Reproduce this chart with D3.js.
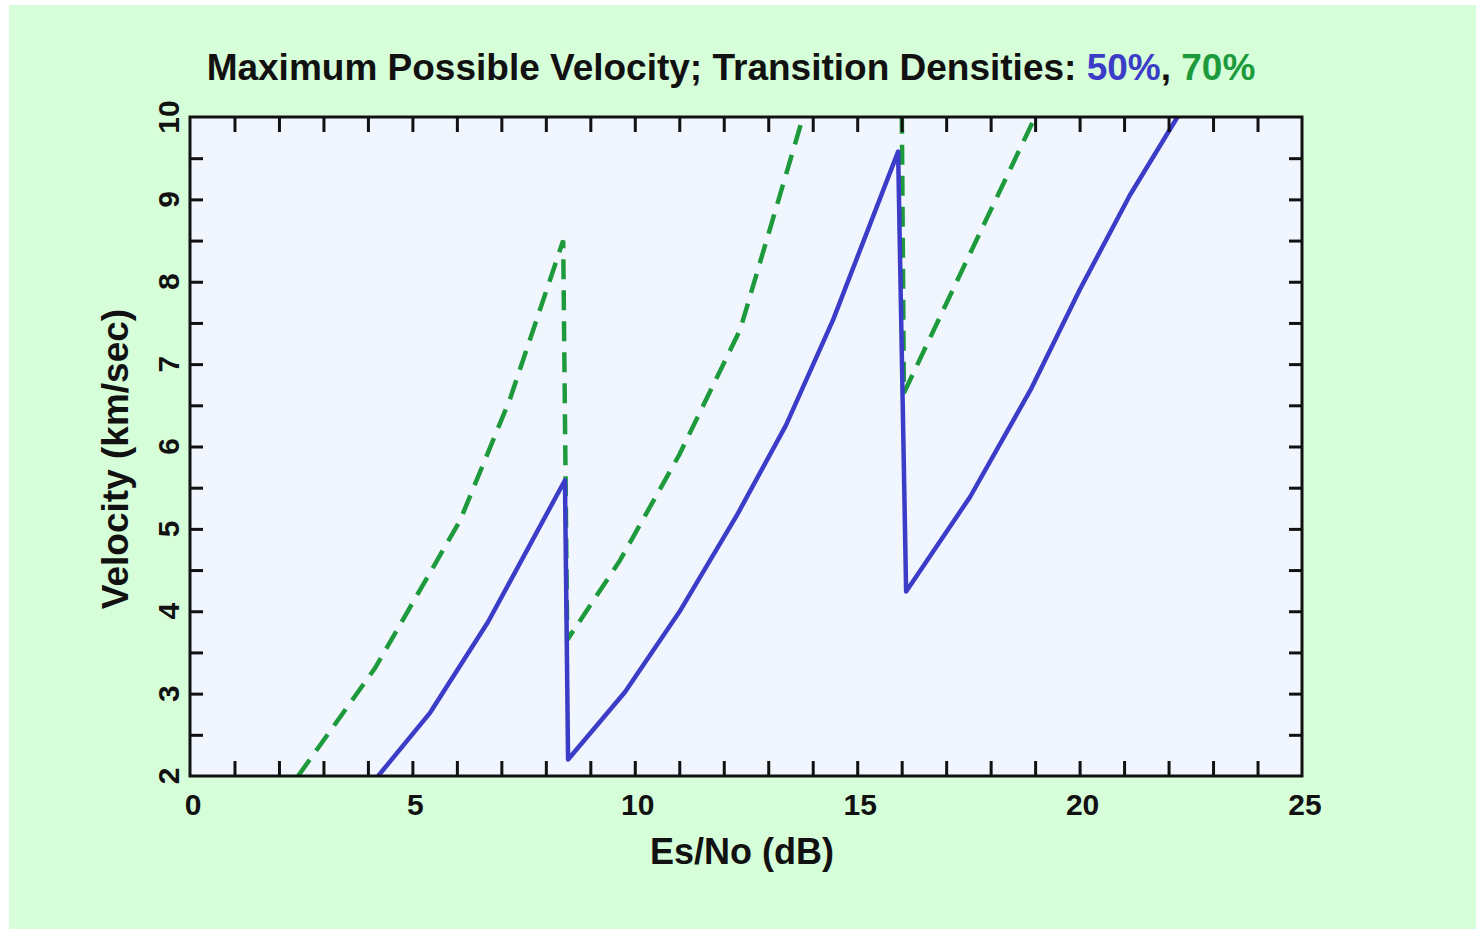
<!DOCTYPE html>
<html>
<head>
<meta charset="utf-8">
<script src="https://cdn.jsdelivr.net/npm/d3@7"></script>
<style>
  body { margin: 0; background: #ffffff; }
  text { font-family: "Liberation Sans", Arial, sans-serif; font-weight: bold; }
</style>
</head>
<body>
<div id="chart"></div>
<script>
// SVG area
var svgWidth = 1476;
var svgHeight = 929;

// plot frame inside the svg
var frame = { left: 190, top: 117, right: 1302, bottom: 776 };

// Data: Es/No (dB) vs velocity (km/sec)
var density50X = [4.23, 5.4, 6.7, 8.43, 8.5, 9.78, 11.0, 12.3, 13.4, 14.46, 15.92, 16.1, 17.54, 18.9, 20.0, 21.13, 22.2];
var density50Y = [2.0, 2.77, 3.87, 5.59, 2.2, 3.02, 3.99, 5.17, 6.26, 7.54, 9.58, 4.24, 5.39, 6.69, 7.9, 9.05, 10.0];

var density70X = [2.43, 4.16, 6.07, 7.19, 8.39, 8.48, 9.67, 11.0, 12.37, 13.71, 15.95, 16.05, 17.5, 19.0, 20.0];
var density70Y = [2.0, 3.31, 5.1, 6.57, 8.5, 3.65, 4.62, 5.9, 7.42, 9.87, 13.9, 6.65, 8.3, 10.0, 11.6];

var xTickLabels = [0, 5, 10, 15, 20, 25];
var yTickLabels = [2, 3, 4, 5, 6, 7, 8, 9, 10];

var blue = "#3b3cc8";
var green = "#1c9a3c";

var svg = d3.select("#chart").append("svg")
  .attr("width", svgWidth).attr("height", svgHeight);

// light green page background
svg.append("rect")
  .attr("x", 9).attr("y", 5)
  .attr("width", svgWidth - 9).attr("height", svgHeight - 5)
  .attr("fill", "#d6fed8");

var x = d3.scaleLinear().domain([0, 25]).range([frame.left, frame.right]);
var y = d3.scaleLinear().domain([2, 10]).range([frame.bottom, frame.top]);

// plot area
svg.append("rect")
  .attr("x", frame.left).attr("y", frame.top)
  .attr("width", frame.right - frame.left).attr("height", frame.bottom - frame.top)
  .attr("fill", "#f1f5fd");

svg.append("clipPath").attr("id", "clip")
  .append("rect")
  .attr("x", frame.left).attr("y", frame.top)
  .attr("width", frame.right - frame.left).attr("height", frame.bottom - frame.top);

var line = d3.line().x(d => x(d[0])).y(d => y(d[1]));

var plot = svg.append("g").attr("clip-path", "url(#clip)");

plot.append("path")
  .datum(density70X.map((v, i) => [v, density70Y[i]]))
  .attr("fill", "none")
  .attr("stroke", green)
  .attr("stroke-width", 4.5)
  .attr("stroke-dasharray", "20,11")
  .attr("d", line);

plot.append("path")
  .datum(density50X.map((v, i) => [v, density50Y[i]]))
  .attr("fill", "none")
  .attr("stroke", blue)
  .attr("stroke-width", 4.5)
  .attr("stroke-linejoin", "round")
  .attr("d", line);

// axes with inward ticks, mirrored on all four sides
function styleAxis(g) {
  g.select(".domain").remove();
  g.selectAll(".tick line").attr("stroke", "#111").attr("stroke-width", 3);
}

var xMinor = d3.range(1, 25, 1);
var yMinor = d3.range(2.5, 10, 0.5);

svg.append("g")
  .attr("transform", `translate(0, ${frame.bottom})`)
  .call(d3.axisBottom(x).tickValues(xMinor).tickSize(-15).tickFormat(""))
  .call(styleAxis);

svg.append("g")
  .attr("transform", `translate(0, ${frame.top})`)
  .call(d3.axisTop(x).tickValues(xMinor).tickSize(-15).tickFormat(""))
  .call(styleAxis);

svg.append("g")
  .attr("transform", `translate(${frame.left}, 0)`)
  .call(d3.axisLeft(y).tickValues(yMinor).tickSize(-13).tickFormat(""))
  .call(styleAxis);

svg.append("g")
  .attr("transform", `translate(${frame.right}, 0)`)
  .call(d3.axisRight(y).tickValues(yMinor).tickSize(-13).tickFormat(""))
  .call(styleAxis);

// tick labels
svg.append("g").selectAll("text").data(xTickLabels).enter()
  .append("text")
  .attr("x", d => x(d) + 3)
  .attr("y", 815)
  .attr("text-anchor", "middle")
  .attr("font-size", "30px")
  .attr("fill", "#111")
  .text(d => d);

svg.append("g").selectAll("text").data(yTickLabels).enter()
  .append("text")
  .attr("transform", d => `translate(179, ${y(d)}) rotate(-90)`)
  .attr("text-anchor", "middle")
  .attr("font-size", "30px")
  .attr("fill", "#111")
  .text(d => d);

// frame
svg.append("rect")
  .attr("x", frame.left).attr("y", frame.top)
  .attr("width", frame.right - frame.left).attr("height", frame.bottom - frame.top)
  .attr("fill", "none")
  .attr("stroke", "#111")
  .attr("stroke-width", 3);

// axis titles
svg.append("text")
  .attr("x", 742).attr("y", 864)
  .attr("text-anchor", "middle")
  .attr("font-size", "36px")
  .attr("fill", "#111")
  .text("Es/No (dB)");

svg.append("text")
  .attr("transform", "translate(128, 459) rotate(-90)")
  .attr("text-anchor", "middle")
  .attr("font-size", "37px")
  .attr("fill", "#111")
  .text("Velocity (km/sec)");

// title
var title = svg.append("text")
  .attr("x", 731).attr("y", 80)
  .attr("text-anchor", "middle")
  .attr("font-size", "37px")
  .attr("fill", "#111");
title.append("tspan").text("Maximum Possible Velocity; Transition Densities: ");
title.append("tspan").attr("fill", blue).text("50%");
title.append("tspan").text(", ");
title.append("tspan").attr("fill", green).text("70%");
</script>
</body>
</html>
